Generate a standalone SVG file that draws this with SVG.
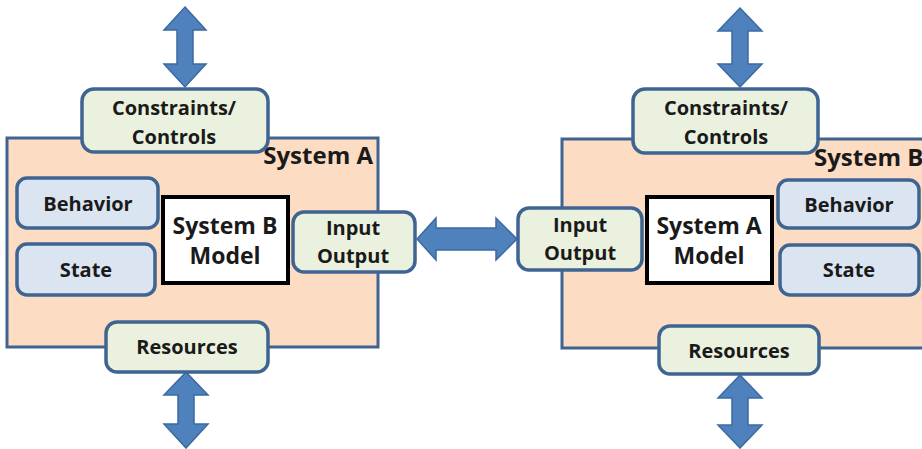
<svg xmlns="http://www.w3.org/2000/svg" width="922" height="449" viewBox="0 0 922 449">
  <defs>
    <style>
      .sys { fill: #fcdcc2; stroke: #3f6492; stroke-width: 3; }
      .port { fill: #ebf1df; stroke: #3f6492; stroke-width: 3.5; }
      .part { fill: #dbe5f2; stroke: #3f6492; stroke-width: 3.5; }
      .model { fill: #ffffff; stroke: #000000; stroke-width: 4; }
      .arrow { fill: #4f81bd; stroke: #3b6aa3; stroke-width: 1.5; stroke-linejoin: miter; }
      text { font-family: "Open Sans", Lato, "Liberation Sans", sans-serif; font-weight: bold; fill: #1a1a1a; text-anchor: middle; }
      .lbl { font-size: 20px; }
      .big { font-size: 23px; }
      .title { font-size: 24px; }
    </style>
  </defs>

  <!-- System A (left) -->
  <g id="systemA">
    <rect class="sys" x="7" y="138" width="371" height="209"/>
    <text class="title" x="373" y="164" style="text-anchor:end">System A</text>
  </g>

  <!-- System B (right, runs past the edge) -->
  <g id="systemB">
    <rect class="sys" x="562" y="139" width="380" height="209"/>
    <text class="title" x="814" y="166" style="text-anchor:start">System B</text>
  </g>

  <!-- connectors: block double arrows -->
  <g id="connectors">
    <path class="arrow" d="M185,7 L206,30 L193,30 L193,64 L206,64 L185,87 L164,64 L177,64 L177,30 L164,30 Z"/>
    <path class="arrow" d="M186,372 L208,395 L194,395 L194,424 L208,424 L186,448 L164,424 L178,424 L178,395 L164,395 Z"/>
    <path class="arrow" d="M740,8 L762,31 L748,31 L748,64 L762,64 L740,87 L718,64 L732,64 L732,31 L718,31 Z"/>
    <path class="arrow" d="M740,375 L762,398 L748,398 L748,425 L762,425 L740,448 L718,425 L732,425 L732,398 L718,398 Z"/>
    <path class="arrow" d="M417,239 L436,218 L436,228 L496,228 L496,218 L517,239 L496,260 L496,250 L436,250 L436,260 Z"/>
  </g>

  <!-- System A parts -->
  <g id="a-constraints">
    <rect class="port" x="82" y="89" width="186" height="63" rx="12"/>
    <text class="lbl" x="174" y="115">Constraints/</text>
    <text class="lbl" x="174" y="144">Controls</text>
  </g>
  <g id="a-behavior">
    <rect class="part" x="17" y="178" width="141" height="50" rx="10"/>
    <text class="lbl" x="88" y="211">Behavior</text>
  </g>
  <g id="a-state">
    <rect class="part" x="17" y="244" width="138" height="51" rx="10"/>
    <text class="lbl" x="86" y="277">State</text>
  </g>
  <g id="a-model">
    <rect class="model" x="163" y="197" width="125" height="86"/>
    <text class="big" x="225" y="234">System B</text>
    <text class="big" x="225" y="264">Model</text>
  </g>
  <g id="a-io">
    <rect class="port" x="293" y="212" width="122" height="60" rx="11"/>
    <text class="lbl" x="353" y="235">Input</text>
    <text class="lbl" x="353" y="263">Output</text>
  </g>
  <g id="a-resources">
    <rect class="port" x="106" y="322" width="162" height="50" rx="11"/>
    <text class="lbl" x="187" y="354">Resources</text>
  </g>

  <!-- System B parts -->
  <g id="b-constraints">
    <rect class="port" x="633" y="89" width="185" height="64" rx="12"/>
    <text class="lbl" x="726" y="115">Constraints/</text>
    <text class="lbl" x="726" y="144">Controls</text>
  </g>
  <g id="b-behavior">
    <rect class="part" x="778" y="180" width="141" height="48" rx="10"/>
    <text class="lbl" x="849" y="212">Behavior</text>
  </g>
  <g id="b-state">
    <rect class="part" x="780" y="245" width="139" height="50" rx="10"/>
    <text class="lbl" x="849" y="277">State</text>
  </g>
  <g id="b-model">
    <rect class="model" x="647" y="197" width="125" height="86"/>
    <text class="big" x="709" y="234">System A</text>
    <text class="big" x="709" y="264">Model</text>
  </g>
  <g id="b-io">
    <rect class="port" x="518" y="208" width="124" height="62" rx="11"/>
    <text class="lbl" x="580" y="232">Input</text>
    <text class="lbl" x="580" y="260">Output</text>
  </g>
  <g id="b-resources">
    <rect class="port" x="659" y="326" width="160" height="48" rx="11"/>
    <text class="lbl" x="739" y="358">Resources</text>
  </g>
</svg>
